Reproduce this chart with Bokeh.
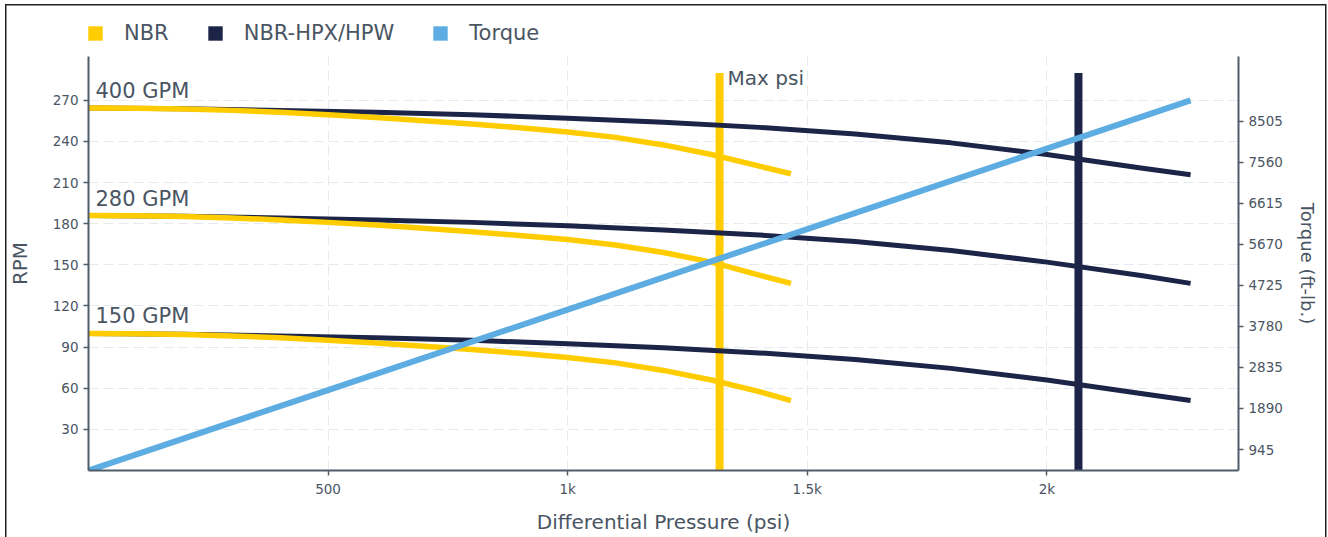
from bokeh.plotting import figure
from bokeh.layouts import column
from bokeh.models import Range1d, LinearAxis, FixedTicker, Legend, LegendItem
from bokeh.core.properties import value
from bokeh.embed import file_html
from bokeh.resources import INLINE

# ---------------- data ----------------
psi_nbr = [0, 100, 200, 300, 400, 500, 600, 700, 800, 900, 1000, 1100, 1200,
           1300, 1400, 1466]
nbr_400 = [264.5, 264.3, 263.7, 262.7, 261.3, 259.5, 257.5, 255.2, 252.7,
           250.0, 247.0, 243.0, 237.5, 230.5, 222.0, 216.5]
nbr_280 = [186.0, 185.8, 185.2, 184.2, 182.8, 181.0, 179.0, 176.7, 174.2,
           171.5, 168.5, 164.5, 159.0, 152.0, 142.5, 136.5]
nbr_150 = [100.0, 99.8, 99.2, 98.2, 96.8, 95.0, 93.0, 90.7, 88.2, 85.5, 82.5,
           78.5, 73.0, 66.0, 57.5, 51.0]

psi_hpx = [0, 200, 400, 600, 800, 1000, 1200, 1400, 1600, 1800, 2000, 2200,
           2300]
hpx_400 = [264.5, 263.9, 262.7, 261.3, 259.5, 257.0, 254.0, 250.3, 245.5,
           239.0, 230.5, 220.5, 215.8]
hpx_280 = [186.0, 185.4, 184.2, 182.8, 181.0, 178.5, 175.5, 171.8, 167.0,
           160.5, 152.0, 142.0, 136.5]
hpx_150 = [100.0, 99.4, 98.2, 96.8, 95.0, 92.5, 89.5, 85.8, 81.0, 74.5, 66.0,
           56.0, 51.0]

torque_psi = [0, 500, 1000, 1500, 2000, 2300]
torque_val = [461, 2315, 4170, 6025, 7880, 8990]

max_psi_nbr = 1317
max_psi_hpx = 2066
max_line_top = 290

gpm_labels = ["400 GPM", "280 GPM", "150 GPM"]
gpm_start = [nbr_400[0], nbr_280[0], nbr_150[0]]

x_ticks = [500, 1000, 1500, 2000]
x_tick_labels = ["500", "1k", "1.5k", "2k"]
rpm_ticks = [30, 60, 90, 120, 150, 180, 210, 240, 270]
torque_ticks = [945, 1890, 2835, 3780, 4725, 5670, 6615, 7560, 8505]

series_names = ["NBR", "NBR-HPX/HPW", "Torque"]

# ---------------- style ----------------
FONT = "DejaVu Sans"
YELLOW = "#FFCC00"
NAVY = "#1C2448"
BLUE = "#5DADE2"
TEXT = "#4A5563"
AXIS = "#4E5D6A"
GRID = "#E6E9ED"
W = 1328
LEG_H = 56
NAN = float("nan")

# ---------------- legend strip ----------------
lf = figure(width=W, height=LEG_H, output_backend="svg", toolbar_location=None,
            min_border=0, x_range=Range1d(0, 1), y_range=Range1d(0, 1))
lf.axis.visible = False
lf.grid.visible = False
lf.outline_line_color = None
lf.border_fill_alpha = 0
lf.background_fill_alpha = 0

leg_r = []
for c in (YELLOW, NAVY, BLUE):
    # swatch-only renderers (no visible marks), used for the legend squares
    leg_r.append(lf.quad(left=[NAN], right=[NAN], top=[NAN], bottom=[NAN],
                         fill_color=c, line_color=None))
legend = Legend(items=[LegendItem(label=n, renderers=[r], index=0)
                       for n, r in zip(series_names, leg_r)],
                orientation="horizontal", location=(-2, 11),
                border_line_color=None, background_fill_alpha=0,
                padding=0, margin=0, spacing=37, glyph_width=18,
                glyph_height=18, label_standoff=20, label_height=18,
                label_text_font=FONT, label_text_font_size="21px",
                label_text_color=TEXT)
lf.add_layout(legend)

# ---------------- main chart ----------------
p = figure(width=W, height=537 - LEG_H, output_backend="svg",
           toolbar_location=None,
           x_range=Range1d(0, 2400), y_range=Range1d(0, 302),
           min_border_left=88, min_border_right=90, min_border_top=0,
           min_border_bottom=67)
p.outline_line_color = None
p.border_fill_alpha = 0

p.extra_y_ranges = {"torque": Range1d(461, 10003)}


def style_axis(ax):
    ax.axis_line_color = AXIS
    ax.axis_line_width = 2
    ax.major_tick_line_color = AXIS
    ax.major_tick_line_width = 1.5
    ax.major_tick_out = 5
    ax.major_tick_in = 0
    ax.minor_tick_line_color = None
    ax.major_label_text_font = FONT
    ax.major_label_text_font_size = "13.5px"
    ax.major_label_text_color = TEXT
    ax.major_label_standoff = 5
    ax.axis_label_text_font = FONT
    ax.axis_label_text_font_style = "normal"
    ax.axis_label_text_color = TEXT


xa = p.xaxis[0]
style_axis(xa)
xa.ticker = FixedTicker(ticks=x_ticks)
xa.major_label_overrides = {t: l for t, l in zip(x_ticks, x_tick_labels)}
xa.axis_label = "Differential Pressure (psi)"
xa.axis_label_text_font_size = "20px"
xa.axis_label_standoff = 10

ya = p.yaxis[0]
style_axis(ya)
ya.ticker = FixedTicker(ticks=rpm_ticks)
ya.axis_label = "RPM"
ya.axis_label_text_font_size = "20px"
ya.axis_label_standoff = 18

ra = LinearAxis(y_range_name="torque", ticker=FixedTicker(ticks=torque_ticks),
                axis_label="Torque (ft-lb.)")
style_axis(ra)
ra.axis_label_text_font_size = "18px"
ra.axis_label_standoff = 11
p.add_layout(ra, "right")

for g in (p.xgrid[0], p.ygrid[0]):
    g.grid_line_color = GRID
    g.grid_line_dash = "10 5"
    g.grid_line_width = 1
p.xgrid[0].ticker = FixedTicker(ticks=x_ticks)
p.ygrid[0].ticker = FixedTicker(ticks=rpm_ticks)

# max pressure lines
p.segment(x0=[max_psi_nbr], y0=[0], x1=[max_psi_nbr], y1=[max_line_top],
          line_color=YELLOW, line_width=8)
p.segment(x0=[max_psi_hpx], y0=[0], x1=[max_psi_hpx], y1=[max_line_top],
          line_color=NAVY, line_width=8)

# curves
for ys in (hpx_400, hpx_280, hpx_150):
    p.line(psi_hpx, ys, line_color=NAVY, line_width=5, line_join="round")
for ys in (nbr_400, nbr_280, nbr_150):
    p.line(psi_nbr, ys, line_color=YELLOW, line_width=5.5, line_join="round")
p.line(torque_psi, torque_val, y_range_name="torque", line_color=BLUE,
       line_width=6)

# labels
p.text(x=[0] * len(gpm_labels), y=gpm_start, text=gpm_labels, x_offset=7,
       y_offset=-17, text_baseline="middle", text_font=value(FONT),
       text_font_size="21px", text_color=TEXT)
p.text(x=[max_psi_nbr], y=[max_line_top], text=["Max psi"], x_offset=8,
       y_offset=5, text_baseline="middle", text_font=value(FONT),
       text_font_size="20px", text_color=TEXT)

page = column(lf, p, spacing=0)
page.styles = {
    "background-color": "white",
    "background-image": ("linear-gradient(#222,#222), linear-gradient(#222,#222), "
                         "linear-gradient(#222,#222)"),
    "background-size": "1.5px 100%, 1321px 1.5px, 1.5px 100%",
    "background-position": "5px 4px, 5px 4px, 1325px 4px",
    "background-repeat": "no-repeat",
}

open("out.html", "w").write(file_html(page, INLINE))
